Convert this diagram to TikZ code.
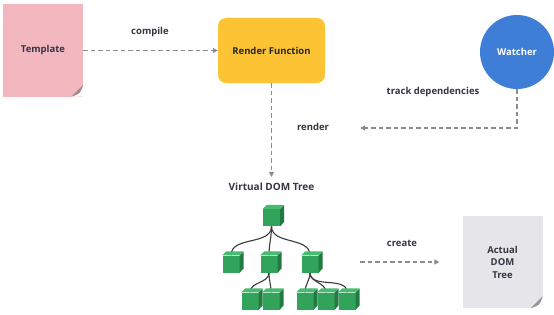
\documentclass[tikz,border=0pt]{standalone}
\usepackage{fontspec}
\setmainfont{Open Sans}
\usepackage{tikz}
\usetikzlibrary{positioning,arrows.meta,calc,backgrounds}
\definecolor{templatepink}{RGB}{243,183,192}
\definecolor{pinkflap}{RGB}{160,138,142}
\definecolor{renderyellow}{RGB}{252,196,52}
\definecolor{watchblue}{RGB}{62,126,214}
\definecolor{actualgray}{RGB}{230,230,234}
\definecolor{grayflap}{RGB}{150,150,154}
\definecolor{flowgray}{RGB}{140,140,140}
\definecolor{labeltext}{RGB}{52,54,66}
\definecolor{cubefront}{RGB}{49,163,90}
\definecolor{cubetop}{RGB}{70,188,112}
\definecolor{cubeside}{RGB}{34,122,66}
\definecolor{branchgray}{RGB}{58,58,58}
\newcommand{\dogear}[2]{%
  \fill[white] (#1.south east) -- ++(-12,0) -- ++(12,12) -- cycle;
  \fill[#2] ($(#1.south east)+(0,12)$) -- ($(#1.south east)+(-12,0)$)
    .. controls ($(#1.south east)+(-3,3)$) .. ($(#1.south east)+(0,12)$) -- cycle;
}
\newcommand{\cube}[2]{%
  \node[cubebox] (#1) at (#2) {};
  \fill[cubetop] (#1.north west) -- ++(4,4) -- ++(17,0) -- (#1.north east) -- cycle;
  \fill[cubeside] (#1.north east) -- ++(4,4) -- ++(0,-17) -- (#1.south east) -- cycle;
}
\tikzset{
  paper/.style={rectangle,align=center,minimum width=80pt,minimum height=92pt,inner sep=0pt,font=\bfseries\fontsize{9.5}{12.5}\selectfont,text=labeltext},
  renderbox/.style={rectangle,rounded corners=8pt,fill=renderyellow,minimum width=107pt,minimum height=65pt,font=\bfseries\fontsize{9.5}{11}\selectfont,text=black!85},
  watcher/.style={circle,fill=watchblue,minimum size=74pt,inner sep=0pt,font=\bfseries\fontsize{9.5}{11}\selectfont,text=white},
  flowlabel/.style={font=\bfseries\fontsize{9.5}{11}\selectfont,text=labeltext,inner sep=1pt},
  treetitle/.style={font=\bfseries\fontsize{10}{12}\selectfont,text=labeltext,inner sep=6pt},
  flow/.style={-{Triangle[length=5pt,width=5pt]},flowgray,line width=1.1pt,dash pattern=on 4.5pt off 3pt},
  cubebox/.style={rectangle,fill=cubefront,minimum size=17pt,inner sep=0pt},
  branch/.style={branchgray,line width=1.1pt}
}
\begin{document}
\begin{tikzpicture}[x=1pt,y=1pt]
  \useasboundingbox (0,0) rectangle (554,314);

  % template, render function, watcher
  \node[paper,fill=templatepink] (template) at (43,263.5) {Template};
  \dogear{template}{pinkflap}
  \node[renderbox] (render) at (271.5,263.5) {Render Function};
  \node[watcher] (watcher) at (517,262) {Watcher};

  \node[flowlabel] (compile) at (150,282) {compile};
  \node[flowlabel] (track) at (433,222) {track dependencies};
  \node[flowlabel] (renderlbl) at (313,187) {render};

  \draw[flow] (template) -- (render);
  \node[treetitle] (vdom) at (271.5,127) {Virtual DOM Tree};
  \draw[flow] (render) -- (vdom);
  \coordinate (watchend) at (360,186);
  \draw[flow] (watcher.south) |- (watchend);

  % virtual dom tree
  \cube{root}{271.5,96.5}
  \cube{nodea}{231,50}
  \cube{nodeb}{269,50}
  \cube{nodec}{310,50}
  \cube{leafba}{250,13}
  \cube{leafbb}{271,13}
  \cube{leafca}{305,13}
  \cube{leafcb}{326,13}
  \cube{leafcc}{347,13}
  \begin{scope}[on background layer]
    \fill[white] (0,0) rectangle (554,314);
    \draw[branch] (root.south) to[out=-90,in=90] (nodea.north);
    \draw[branch] (root.south) to[out=-90,in=90] (nodeb.north);
    \draw[branch] (root.south) to[out=-90,in=90] (nodec.north);
    \draw[branch] (nodeb.south) to[out=-90,in=90] (leafba.north);
    \draw[branch] (nodeb.south) to[out=-90,in=90] (leafbb.north);
    \draw[branch] (nodec.south) to[out=-90,in=90] (leafca.north);
    \draw[branch] (nodec.south) to[out=-90,in=90] (leafcb.north);
    \draw[branch] (nodec.south) to[out=-90,in=90] (leafcc.north);
  \end{scope}

  % actual dom
  \node[paper,fill=actualgray] (actual) at (502.5,52) {Actual\\DOM\\Tree};
  \dogear{actual}{grayflap}
  \node[flowlabel] (create) at (402,71) {create};
  \coordinate (createstart) at (360,52);
  \draw[flow,shorten >=23pt] (createstart) -- (actual);
\end{tikzpicture}
\end{document}
